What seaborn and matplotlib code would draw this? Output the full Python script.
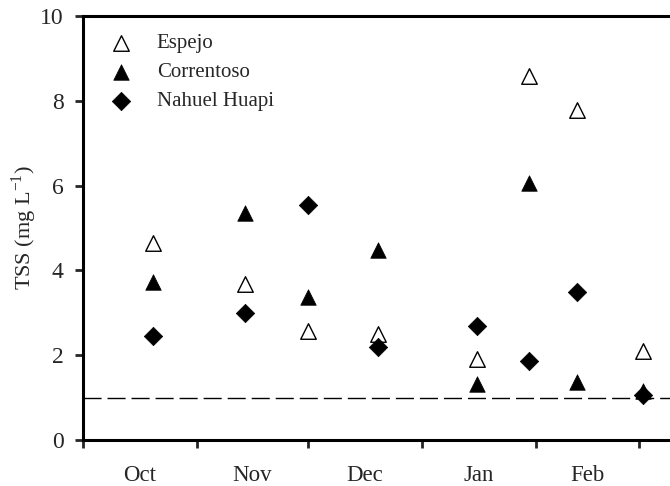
import numpy as np
import pandas as pd
import matplotlib
matplotlib.use("Agg")
import matplotlib.pyplot as plt
import matplotlib.dates as mdates
import seaborn as sns

# ---- data ----
sample_dates = ["2006-10-20", "2006-11-14", "2006-12-01", "2006-12-20",
                "2007-01-16", "2007-01-30", "2007-02-12", "2007-03-02"]
espejo = [4.65, 3.68, 2.58, 2.50, 1.90, 8.58, 7.78, 2.10]
correntoso = [3.72, 5.35, 3.38, 4.47, 1.33, 6.05, 1.37, 1.16]
nahuel_huapi = [2.45, 3.00, 5.54, 2.20, 2.69, 1.86, 3.49, 1.06]
month_labels = ["Oct", "Nov", "Dec", "Jan", "Feb"]
month_starts = ["2006-10-01", "2006-11-01", "2006-12-01", "2007-01-01",
                "2007-02-01", "2007-03-01"]
y_ticks = [0, 2, 4, 6, 8, 10]
reference_level = 1.0

df = pd.DataFrame({
    "date": pd.to_datetime(sample_dates),
    "Espejo": espejo,
    "Correntoso": correntoso,
    "Nahuel Huapi": nahuel_huapi,
})

sns.set_style("ticks")
plt.rcParams["font.family"] = ["Liberation Serif", "DejaVu Serif"]
plt.rcParams["mathtext.fontset"] = "custom"
plt.rcParams["mathtext.rm"] = "Liberation Serif"

fig = plt.figure(figsize=(6.7, 4.86), dpi=100)
ax = fig.add_axes([83 / 670, 46 / 486, 1 - 83 / 670, (440 - 16) / 486])

ax.axhline(reference_level, color="black", lw=1.0, dashes=(13, 4.3), zorder=1)

sns.scatterplot(data=df, x="date", y="Espejo", ax=ax, marker="^", s=125,
                facecolor="white", edgecolor="black", linewidth=1.0,
                label="Espejo", zorder=3)
sns.scatterplot(data=df, x="date", y="Correntoso", ax=ax, marker="^", s=125,
                color="black", edgecolor="black", linewidth=0.5,
                label="Correntoso", zorder=3)
sns.scatterplot(data=df, x="date", y="Nahuel Huapi", ax=ax, marker="D", s=88,
                color="black", edgecolor="black", linewidth=0.5,
                label="Nahuel Huapi", zorder=4)

starts = pd.to_datetime(month_starts)
start_nums = mdates.date2num(starts)
mid_nums = (start_nums[:-1] + start_nums[1:]) / 2

left = start_nums[0]
px_per_day = (639 - 197) / (start_nums[-1] - start_nums[1])
right = left + (670 - 83) / px_per_day
ax.set_xlim(left, right)
ax.set_ylim(0, 10)

ax.set_xticks(start_nums)
ax.set_xticklabels([])
ax.set_xticks(mid_nums, minor=True)
ax.set_xticklabels(month_labels, minor=True, fontsize=16.5)
ax.tick_params(axis="x", which="major", direction="out", length=6, width=2)
ax.tick_params(axis="x", which="minor", length=0, pad=18)
ax.set_yticks(y_ticks)
ax.set_yticklabels([str(v) for v in y_ticks], fontsize=17)
ax.tick_params(axis="y", direction="out", length=6, width=2, pad=8)

ax.set_xlabel("")
ax.set_ylabel("TSS (mg L$^{\\mathregular{-1}}$)", fontsize=16, labelpad=1)

for side in ["left", "bottom", "top"]:
    ax.spines[side].set_visible(True)
    ax.spines[side].set_linewidth(2.2)
    ax.spines[side].set_color("black")
ax.spines["right"].set_visible(False)

leg = ax.legend(loc="upper left", frameon=False, fontsize=15,
                bbox_to_anchor=(0.043, 0.958), handlelength=1.2,
                handletextpad=1.13, labelspacing=0.45,
                borderaxespad=0.0, borderpad=0.0)

fig.savefig("out.png", dpi=100)
